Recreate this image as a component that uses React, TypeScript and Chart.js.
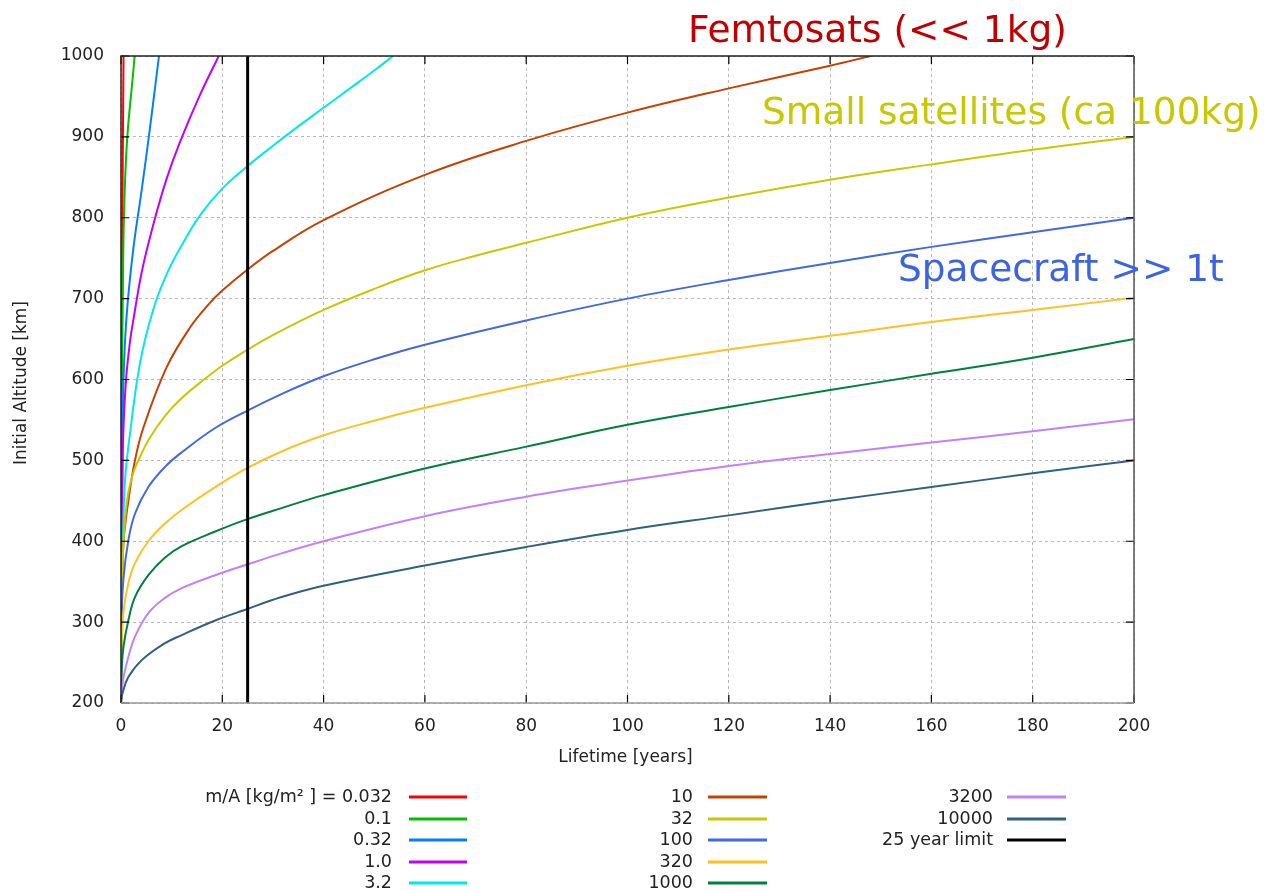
import React, { useEffect, useRef } from "react";
import { Chart, registerables } from "chart.js";

Chart.register(...registerables);

// ---------- data: points as [lifetime in years, initial altitude in km], one list per m/A ----------
const xTicks = [0, 20, 40, 60, 80, 100, 120, 140, 160, 180, 200];
const yTicks = [200, 300, 400, 500, 600, 700, 800, 900, 1000];

const mA_0_032: [number, number][] = [[0, 200], [0.02, 300], [0.05, 400], [0.1, 500], [0.15, 600], [0.2, 700], [0.28, 800], [0.38, 900], [0.5, 1000]];
const mA_0_1: [number, number][] = [[0, 200], [0.03, 300], [0.06, 400], [0.1, 500], [0.2, 600], [0.35, 700], [0.6, 806], [1.2, 896], [2.4, 979], [2.7, 1000]];
const mA_0_32: [number, number][] = [[0, 200], [0.07, 300], [0.15, 400], [0.3, 500], [0.5, 600], [1.1, 678], [2.4, 760], [4.1, 835], [5.7, 910], [7.5, 1000]];
const mA_1_0: [number, number][] = [[0, 200], [0.03, 300], [0.1, 380], [0.2, 450], [0.45, 534], [1.0, 600], [1.8, 648], [2.4, 672], [4.1, 733], [6.4, 792], [9, 848], [11.6, 893], [15.6, 952], [19.3, 1000]];
const mA_3_2: [number, number][] = [[0, 200], [0.1, 300], [0.45, 414], [0.8, 476], [1.8, 534], [3.75, 620], [6.3, 685], [9, 730], [12, 766], [15.6, 803], [20, 836], [25, 864], [30, 889], [35, 913], [40, 936], [45, 959], [50, 982], [53.7, 1000]];
const mA_10: [number, number][] = [[0, 200], [0.1, 300], [0.46, 395], [1.45, 450], [2.76, 500], [4.4, 540], [9, 615], [13.6, 664], [17.6, 695], [20, 710], [25, 736], [30, 759], [40, 797], [60, 853], [80, 895], [100, 930], [120, 960], [140, 988], [148, 1000]];
const mA_32: [number, number][] = [[0, 200], [0.1, 300], [0.5, 400], [1.3, 455], [2.4, 484], [3.5, 501], [5.4, 525], [8.7, 555], [12, 577], [16.6, 601], [20, 617], [25, 637], [30, 655], [40, 686], [50, 712], [60, 735], [70, 753], [80, 769], [100, 800], [120, 825], [140, 847], [160, 866], [180, 884], [200, 900]];
const mA_100: [number, number][] = [[0, 200], [0.1, 300], [0.46, 352], [1.45, 401], [2.76, 434], [5.4, 467], [8.7, 492], [12, 510], [18.6, 540], [24.8, 561], [31.7, 582], [40, 604], [50, 625], [60, 643], [80, 673], [100, 700], [120, 723], [140, 744], [160, 764], [180, 782], [200, 800]];
const mA_320: [number, number][] = [[0, 200], [0.1, 260], [0.46, 311], [1.45, 348], [2.76, 373], [5.4, 400], [8.7, 422], [12, 439], [18.6, 467], [24.8, 490], [31.7, 511], [40, 531], [50, 549], [60, 565], [80, 593], [100, 617], [120, 637], [140, 654], [160, 671], [180, 686], [200, 701]];
const mA_1000: [number, number][] = [[0, 200], [0.13, 241], [0.5, 270], [1.45, 302], [2.76, 331], [5.4, 358], [8.7, 380], [12, 394], [18.6, 412], [24.8, 427], [31.7, 441], [40, 457], [60, 490], [80, 517], [100, 544], [120, 566], [140, 587], [160, 607], [180, 627], [200, 650]];
const mA_3200: [number, number][] = [[0, 200], [0.13, 212], [0.5, 232], [1.45, 257], [2.76, 282], [5.4, 311], [8.7, 330], [12, 342], [18.6, 358], [24.8, 371], [31.7, 385], [40, 400], [60, 431], [80, 455], [100, 475], [120, 493], [140, 508], [160, 522], [180, 536], [200, 551]];
const mA_10000: [number, number][] = [[0, 200], [0.3, 212], [1.45, 232], [4.1, 253], [8.7, 274], [12, 284], [18.6, 302], [24.8, 316], [31.7, 331], [40, 345], [60, 370], [80, 393], [100, 414], [120, 432], [140, 450], [160, 467], [180, 484], [200, 500]];
const limit25: [number, number][] = [[25, 200], [25, 1000]];

const seriesLabels = ["m/A [kg/m² ] = 0.032", "0.1", "0.32", "1.0", "3.2", "10", "32", "100", "320", "1000", "3200", "10000", "25 year limit"];
const seriesData = [mA_0_032, mA_0_1, mA_0_32, mA_1_0, mA_3_2, mA_10, mA_32, mA_100, mA_320, mA_1000, mA_3200, mA_10000, limit25];
const seriesColors = ["#ff0000", "#00c000", "#0080ff", "#c000ff", "#00e8e8", "#c84000", "#c8c800", "#4169e1", "#ffc020", "#008040", "#c080ff", "#306080", "#000000"];
const seriesWidths = [2, 2, 2, 2, 2, 2, 2, 2, 2, 2, 2, 2, 3];

const xTitle = "Lifetime [years]";
const yTitle = "Initial Altitude [km]";
const notes = [
  { text: "Femtosats (<< 1kg)", color: "#c00000", x: 688, y: 42 },
  { text: "Small satellites (ca 100kg)", color: "#c8c800", x: 762, y: 124 },
  { text: "Spacecraft >> 1t", color: "#3d63e0", x: 898, y: 281 },
];

const FONT = "DejaVu Sans";

const decorPlugin = {
  id: "decor",
  afterDatasetsDraw(chart: any) {
    const { ctx, chartArea: a, scales } = chart;
    ctx.save();
    ctx.strokeStyle = "#000";
    ctx.lineWidth = 1.2;
    const tl = 8;
    yTicks.forEach((v) => {
      const y = scales.y.getPixelForValue(v);
      ctx.beginPath();
      ctx.moveTo(a.left, y); ctx.lineTo(a.left + tl, y);
      ctx.moveTo(a.right, y); ctx.lineTo(a.right - tl, y);
      ctx.stroke();
    });
    xTicks.forEach((v) => {
      const x = scales.x.getPixelForValue(v);
      ctx.beginPath();
      ctx.moveTo(x, a.bottom); ctx.lineTo(x, a.bottom - tl);
      ctx.moveTo(x, a.top); ctx.lineTo(x, a.top + tl);
      ctx.stroke();
    });
    ctx.lineWidth = 1.5;
    ctx.strokeStyle = "#222";
    ctx.beginPath(); ctx.moveTo(a.left, a.bottom); ctx.lineTo(a.left, a.top); ctx.lineTo(a.right, a.top); ctx.stroke();
    ctx.strokeStyle = "#555";
    ctx.beginPath(); ctx.moveTo(a.right, a.top); ctx.lineTo(a.right, a.bottom); ctx.stroke();
    ctx.strokeStyle = "#999";
    ctx.beginPath(); ctx.moveTo(a.left, a.bottom); ctx.lineTo(a.right, a.bottom); ctx.stroke();
    ctx.restore();
  },
  afterDraw(chart: any) {
    const { ctx, chartArea: a } = chart;
    ctx.save();
    ctx.fillStyle = "#222";
    ctx.font = `17px ${FONT}`;
    ctx.textAlign = "center";
    ctx.textBaseline = "middle";
    ctx.fillText(xTitle, (a.left + a.right) / 2 - 2, 758);
    ctx.save();
    ctx.translate(22, 383);
    ctx.rotate(-Math.PI / 2);
    ctx.fillText(yTitle, 0, 0);
    ctx.restore();

    const cols = [
      { textRight: 392, lineL: 409, lineR: 467 },
      { textRight: 693, lineL: 708, lineR: 767 },
      { textRight: 993, lineL: 1007, lineR: 1066 },
    ];
    const rowY = [797, 819, 840, 862, 883];
    ctx.font = `17.5px ${FONT}`;
    ctx.textAlign = "right";
    seriesLabels.forEach((lab, i) => {
      const col = cols[Math.floor(i / 5)];
      const y = rowY[i % 5];
      ctx.fillStyle = "#222";
      ctx.fillText(lab, col.textRight, y);
      ctx.strokeStyle = seriesColors[i];
      ctx.lineWidth = 3;
      ctx.beginPath();
      ctx.moveTo(col.lineL, y);
      ctx.lineTo(col.lineR, y);
      ctx.stroke();
    });

    ctx.font = `37.5px ${FONT}`;
    ctx.textAlign = "left";
    ctx.textBaseline = "alphabetic";
    notes.forEach((n) => {
      ctx.fillStyle = n.color;
      ctx.fillText(n.text, n.x, n.y);
    });
    ctx.restore();
  },
};

export default function App() {
  const ref = useRef<HTMLCanvasElement | null>(null);
  useEffect(() => {
    if (!ref.current) return;
    const chart = new Chart(ref.current, {
      type: "scatter",
      data: {
        datasets: seriesData.map((d, i) => ({
          label: seriesLabels[i],
          data: d.map(([x, y]) => ({ x, y })),
          showLine: true,
          borderColor: seriesColors[i],
          backgroundColor: seriesColors[i],
          borderWidth: seriesWidths[i],
          pointRadius: 0,
          tension: 0.4,
          order: 100 - i,
        })),
      },
      options: {
        responsive: false,
        animation: false,
        events: [],
        layout: { padding: { left: 0, top: 56, right: 133, bottom: 0 } },
        plugins: { legend: { display: false }, tooltip: { enabled: false } },
        scales: {
          x: {
            type: "linear",
            min: 0,
            max: 200,
            afterFit: (s: any) => { s.height = 188; },
            afterBuildTicks: (s: any) => { s.ticks = xTicks.map((v) => ({ value: v })); },
            ticks: { font: { family: FONT, size: 17 }, color: "#222", padding: 13, maxRotation: 0, callback: (v: any) => String(v) },
            grid: { color: "#b8b8b8", lineWidth: 1, drawTicks: false },
            border: { display: false, dash: [3, 3] },
          },
          y: {
            type: "linear",
            min: 200,
            max: 1000,
            afterFit: (s: any) => { s.width = 121; },
            afterBuildTicks: (s: any) => { s.ticks = yTicks.map((v) => ({ value: v })); },
            ticks: { font: { family: FONT, size: 17 }, color: "#222", padding: 17, callback: (v: any) => String(v) },
            grid: { color: "#b8b8b8", lineWidth: 1, drawTicks: false },
            border: { display: false, dash: [3, 3] },
          },
        },
      },
      plugins: [decorPlugin],
    });
    return () => chart.destroy();
  }, []);
  return (
    <div style={{ position: "absolute", left: 0, top: 0, width: 1267, height: 891, background: "#fff" }}>
      <canvas ref={ref} width={1267} height={891} />
    </div>
  );
}
